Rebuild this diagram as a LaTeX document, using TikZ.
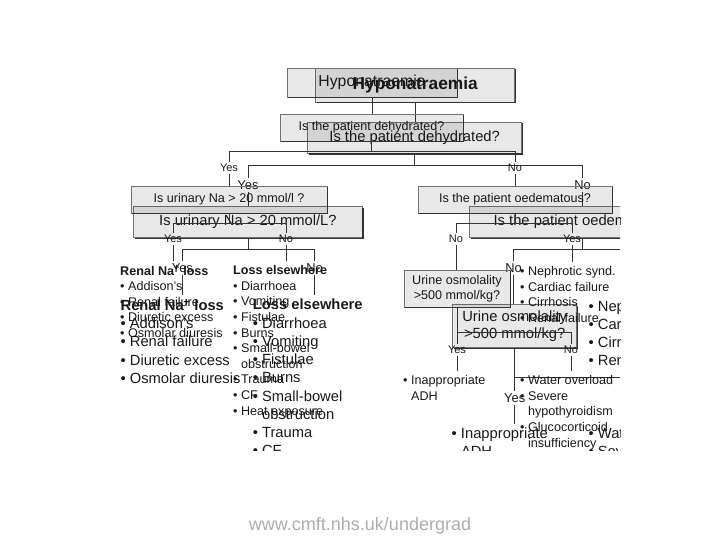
\documentclass[tikz,border=0pt]{standalone}
\usepackage{fontspec}
\setmainfont{Liberation Sans}
\tikzset{
  boxsty/.style={draw=black!55, line width=0.7pt, fill=black, fill opacity=0.09, text opacity=1,
    text=black!90, inner sep=0pt, font=\fontsize{12.6}{15}\selectfont, align=center},
  shadowln/.style={draw=black!80, line width=1.3pt},
  lab/.style={font=\fontsize{11}{12}\selectfont, text=black!90, inner sep=2.2pt},
  conn/.style={draw=black!80, line width=0.7pt},
  liststy/.style={anchor=north west, inner sep=0pt, align=left,
    font=\fontsize{12.6}{15.6}\selectfont, text=black!90},
}
\newcommand{\shadowbox}[1]{\draw[shadowln] ([xshift=1.5pt]#1.south west) -- (#1.south east) -- ([yshift=-1.5pt]#1.north east);}
\newcommand{\hypolayer}[2]{%
  % boxes
  \node[boxsty, minimum width=170pt, minimum height=29pt, font=#1] (title) at (372,82.5) {Hyponatraemia};
  \shadowbox{title}
  \node[boxsty, minimum width=183pt, minimum height=27pt] (dehy) at (371.5,127.5) {Is the patient dehydrated?};
  \shadowbox{dehy}
  \node[boxsty, minimum width=196pt, minimum height=27pt] (urin) at (229,199.5) {Is urinary Na > 20 #2};
  \shadowbox{urin}
  \node[boxsty, minimum width=194pt, minimum height=27pt] (oede) at (515,199.5) {Is the patient oedematous?};
  \shadowbox{oede}
  \node[boxsty, minimum width=106pt, minimum height=37pt] (osmo) at (457,288.5) {Urine osmolality\\>500 mmol/kg?};
  \shadowbox{osmo}
  % labels
  \node[lab] (yes1) at (229,168) {Yes};
  \node[lab] (no1) at (515,168) {No};
  \node[lab] (yes2) at (173,239) {Yes};
  \node[lab] (no2) at (286,239) {No};
  \node[lab] (no3) at (456,239) {No};
  \node[lab] (yes3) at (572,239) {Yes};
  \node[lab] (yes4) at (457,350) {Yes};
  \node[lab] (no4) at (571,350) {No};
  % lists
  \node[liststy] (renal) at (120,265.4) {\textbf{Renal Na\textsuperscript{+} loss}\\• Addison's\\• Renal failure\\• Diuretic excess\\• Osmolar diuresis};
  \node[liststy] (loss) at (233,265.4) {\textbf{Loss elsewhere}\\• Diarrhoea\\• Vomiting\\• Fistulae\\• Burns\\• Small-bowel\\\hphantom{• }obstruction\\• Trauma\\• CF\\• Heat exposure};
  \node[liststy] (neph) at (520,266.4) {• Nephrotic synd.\\• Cardiac failure\\• Cirrhosis\\• Renal failure};
  \node[liststy] (adh) at (403,375.4) {• Inappropriate\\\hphantom{• }ADH};
  \node[liststy] (water) at (520,375.4) {• Water overload\\• Severe\\\hphantom{• }hypothyroidism\\• Glucocorticoid\\\hphantom{• }insufficiency};
  % bar coordinates
  \coordinate (b1) at (371.5,151);
  \coordinate (b2) at (229,223);
  \coordinate (b3) at (515,223);
  \coordinate (b4) at (457,332);
  % connectors
  \draw[conn] (title.south) -- (title.south |- dehy.north);
  \draw[conn] (dehy.south) -- (dehy.south |- b1);
  \draw[conn] (yes1.north) -- (yes1.north |- b1) -- (no1.north |- b1) -- (no1.north);
  \draw[conn] (yes1.south) -- (yes1.south |- urin.north);
  \draw[conn] (no1.south) -- (no1.south |- oede.north);
  \draw[conn] (urin.south) -- (urin.south |- b2);
  \draw[conn] (yes2.north) -- (yes2.north |- b2) -- (no2.north |- b2) -- (no2.north);
  \draw[conn, shorten >=4pt] (yes2.south) -- (yes2.south |- renal.north);
  \draw[conn, shorten >=4pt] (no2.south) -- (no2.south |- loss.north);
  \draw[conn] (oede.south) -- (oede.south |- b3);
  \draw[conn] (no3.north) -- (no3.north |- b3) -- (yes3.north |- b3) -- (yes3.north);
  \draw[conn] (no3.south) -- (no3.south |- osmo.north);
  \draw[conn, shorten >=4pt] (yes3.south) -- (yes3.south |- neph.north);
  \draw[conn] (osmo.south) -- (osmo.south |- b4);
  \draw[conn] (yes4.north) -- (yes4.north |- b4) -- (no4.north |- b4) -- (no4.north);
  \draw[conn, shorten >=4pt] (yes4.south) -- (yes4.south |- adh.north);
  \draw[conn, shorten >=4pt] (no4.south) -- (no4.south |- water.north);
}
\begin{document}
\begin{tikzpicture}[x=1pt, y=-1pt]
  \useasboundingbox (0,0) rectangle (720,540);
  % enlarged copy, clipped
  \begin{scope}
    \clip (100,50) rectangle (620,450);
    \begin{scope}[shift={(-20,-11.5)}, scale=1.17, transform shape]
      \hypolayer{\fontsize{14.8}{16}\bfseries}{mmol/L?}
    \end{scope}
  \end{scope}
  % original layer
  \hypolayer{\fontsize{15.8}{17}\selectfont}{mmol/l ?}
  \node[font=\fontsize{18}{20}\selectfont, text=black!32] (wm) at (360,526) {www.cmft.nhs.uk/undergrad};
\end{tikzpicture}
\end{document}
